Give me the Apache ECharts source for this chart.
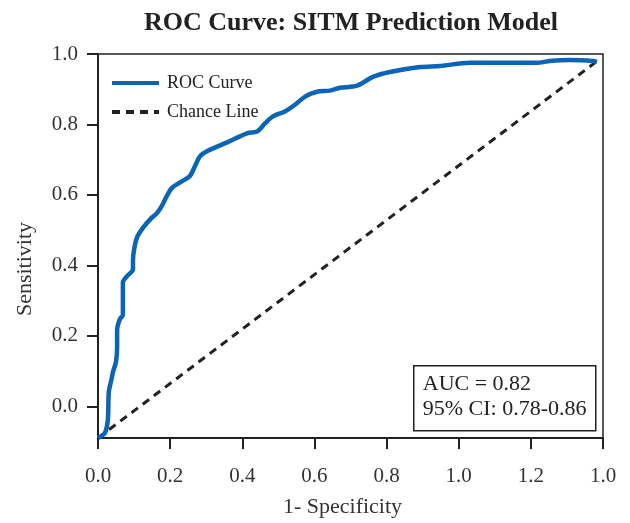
<!DOCTYPE html>
<html>
<head>
<meta charset="utf-8">
<script src="https://cdn.jsdelivr.net/npm/echarts@6/dist/echarts.min.js"></script>
<style>
  html, body { margin: 0; padding: 0; background: #fff; }
  #chart { width: 630px; height: 523px; }
</style>
</head>
<body>
<div id="chart"></div>
<script>
// data (x in axis units, y = sensitivity)
var rocX = [0, 0.008, 0.019, 0.025, 0.028, 0.030, 0.036, 0.042, 0.050, 0.053, 0.053, 0.061, 0.069, 0.069, 0.069,
  0.080, 0.097, 0.097, 0.100, 0.108, 0.125, 0.144, 0.164, 0.177, 0.191, 0.205, 0.230, 0.255, 0.269, 0.283,
  0.302, 0.358, 0.413, 0.441, 0.463, 0.485, 0.518, 0.546, 0.574, 0.607, 0.643, 0.671, 0.718, 0.762, 0.809,
  0.893, 0.948, 1.031, 1.217, 1.253, 1.308, 1.372, 1.383];
var rocY = [-0.090, -0.085, -0.076, -0.056, -0.028, 0.042, 0.070, 0.099, 0.127, 0.169, 0.217, 0.248, 0.259, 0.310, 0.352,
  0.369, 0.389, 0.414, 0.445, 0.479, 0.507, 0.530, 0.549, 0.569, 0.597, 0.620, 0.637, 0.654, 0.682, 0.710,
  0.724, 0.749, 0.775, 0.780, 0.803, 0.823, 0.837, 0.856, 0.879, 0.893, 0.896, 0.904, 0.910, 0.935, 0.949,
  0.963, 0.966, 0.975, 0.975, 0.980, 0.983, 0.980, 0.977];
var chanceX = [0, 1.38];
var chanceY = [-0.09, 0.977];

var xTickValues = [0, 0.2, 0.4, 0.6, 0.8, 1.0, 1.2, 1.4];
var xTickLabels = ['0.0', '0.2', '0.4', '0.6', '0.8', '1.0', '1.2', '1.0'];
var yTickValues = [0, 0.2, 0.4, 0.6, 0.8, 1.0];
var yTickLabels = ['0.0', '0.2', '0.4', '0.6', '0.8', '1.0'];

var aucLines = ['AUC = 0.82', '95% CI: 0.78-0.86'];

var font = 'Liberation Serif';
var chart = echarts.init(document.getElementById('chart'));

var rocData = rocX.map(function (x, i) { return [x, rocY[i]]; });
var chanceData = chanceX.map(function (x, i) { return [x, chanceY[i]]; });

function pickLabel(values, labels) {
  return function (v) {
    var i = values.findIndex(function (t) { return Math.abs(t - v) < 1e-6; });
    return i >= 0 ? labels[i] : '';
  };
}

var option = {
  backgroundColor: '#fff',
  animation: false,
  textStyle: { fontFamily: font },
  title: {
    text: 'ROC Curve: SITM Prediction Model',
    left: 346,
    textAlign: 'center',
    top: 5,
    textStyle: { fontFamily: font, fontSize: 26, fontWeight: 'bold', color: '#222' }
  },
  legend: {
    orient: 'vertical',
    left: 105,
    top: 69,
    itemWidth: 47,
    itemHeight: 14,
    itemGap: 11,
    itemStyle: { opacity: 0, borderWidth: 0 },
    lineStyle: { width: 4 },
    textStyle: { fontFamily: font, fontSize: 18, color: '#222', padding: [0, 0, 0, 3] },
    data: ['ROC Curve', 'Chance Line']
  },
  grid: {
    left: 98, right: 27, top: 54, bottom: 81,
    show: true, borderColor: '#222', borderWidth: 1.5
  },
  xAxis: {
    type: 'value',
    min: 0, max: 1.4,
    name: '1- Specificity',
    nameLocation: 'middle',
    nameGap: 58,
    nameTextStyle: { fontFamily: font, fontSize: 22, color: '#333', padding: [0, 16, 0, 0] },
    axisLine: { onZero: false, lineStyle: { color: '#222', width: 2 } },
    axisTick: { length: 11, lineStyle: { color: '#222', width: 2 }, customValues: xTickValues },
    axisLabel: {
      fontFamily: font, fontSize: 21, color: '#333', margin: 28,
      customValues: xTickValues,
      formatter: pickLabel(xTickValues, xTickLabels)
    },
    splitLine: { show: false }
  },
  yAxis: {
    type: 'value',
    min: -0.09, max: 1.0,
    name: 'Sensitivity',
    nameLocation: 'middle',
    nameGap: 62,
    nameTextStyle: { fontFamily: font, fontSize: 22, color: '#333', padding: [0, 46, 0, 0] },
    axisLine: { onZero: false, lineStyle: { color: '#222', width: 2 } },
    axisTick: { length: 11, lineStyle: { color: '#222', width: 2 }, customValues: yTickValues },
    axisLabel: {
      fontFamily: font, fontSize: 21, color: '#333', margin: 20,
      customValues: yTickValues,
      formatter: pickLabel(yTickValues, yTickLabels)
    },
    splitLine: { show: false }
  },
  graphic: [{
    type: 'group',
    left: 413,
    top: 365,
    children: [
      { type: 'rect', shape: { x: 0, y: 0, width: 182, height: 65 },
        style: { fill: '#fff', stroke: '#222', lineWidth: 1.5 } },
      { type: 'text', x: 9, y: 7,
        style: { text: aucLines[0], font: '22px "Liberation Serif"', fill: '#222' } },
      { type: 'text', x: 9, y: 32,
        style: { text: aucLines[1], font: '22px "Liberation Serif"', fill: '#222' } }
    ]
  }],
  series: [
    {
      name: 'ROC Curve',
      type: 'line',
      data: rocData,
      smooth: 0.3,
      symbol: 'none',
      lineStyle: { color: '#0a64b8', width: 4.5 },
      itemStyle: { color: '#0a64b8' },
      z: 3
    },
    {
      name: 'Chance Line',
      type: 'line',
      data: chanceData,
      symbol: 'none',
      lineStyle: { color: '#222', width: 3, type: [8, 6] },
      itemStyle: { color: '#222' },
      z: 2
    }
  ]
};
chart.setOption(option);
</script>
</body>
</html>
